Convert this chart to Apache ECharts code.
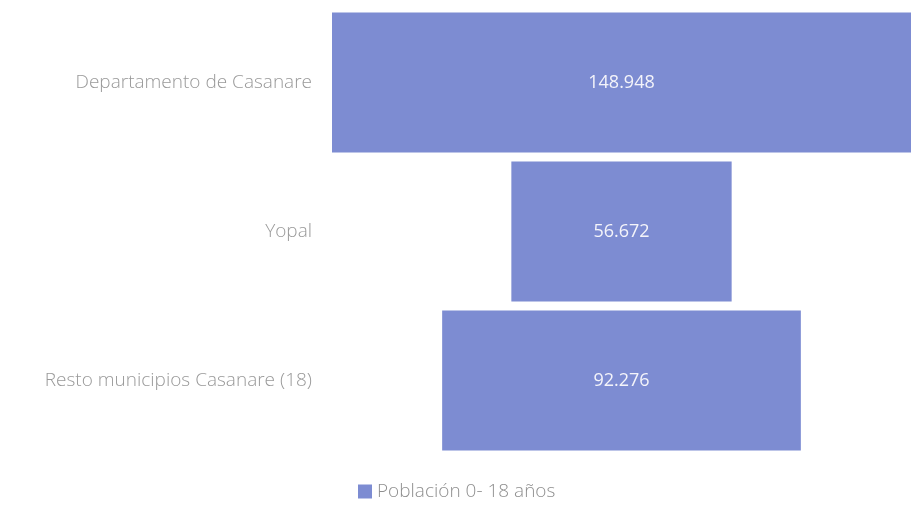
<!DOCTYPE html>
<html>
<head>
<meta charset="utf-8">
<script src="https://cdn.jsdelivr.net/npm/echarts@6/dist/echarts.min.js"></script>
<style>html,body{margin:0;padding:0;background:#fff;}#c{width:911px;height:512px;}</style>
</head>
<body>
<div id="c"></div>
<script>
var categories = ['Departamento de Casanare', 'Yopal', 'Resto municipios Casanare (18)'];
var seriesName = 'Población 0- 18 años';
var values = [148948, 56672, 92276];

var maxVal = Math.max.apply(null, values);
var offsets = values.map(function (v) { return (maxVal - v) / 2; });
function fmt(n) { return String(n).replace(/\B(?=(\d{3})+(?!\d))/g, '.'); }

var chart = echarts.init(document.getElementById('c'));
chart.setOption({
  animation: false,
  backgroundColor: '#ffffff',
  grid: { left: 332, right: -17, top: 8, bottom: 57, containLabel: false },
  xAxis: { type: 'value', min: 0, max: maxVal, show: false },
  yAxis: {
    type: 'category', data: categories, inverse: true,
    axisLine: { show: false }, axisTick: { show: false },
    axisLabel: { color: '#999999', fontFamily: 'Open Sans', fontWeight: 300, fontSize: 19, margin: 20 }
  },
  legend: {
    data: [seriesName], left: 353, top: 477,
    itemWidth: 14, itemHeight: 14, itemGap: 10, icon: 'rect',
    textStyle: { color: '#8f8f8f', fontFamily: 'Open Sans', fontWeight: 300, fontSize: 19 }
  },
  series: [
    {
      name: 'offset', type: 'bar', stack: 'f', data: offsets,
      itemStyle: { color: 'transparent' }, barWidth: '94%', silent: true
    },
    {
      name: seriesName, type: 'bar', stack: 'f', data: values, barWidth: '94%',
      itemStyle: { color: '#7d8cd2' },
      label: {
        show: true, position: 'inside', color: '#f4f4fa',
        fontFamily: 'Open Sans', fontSize: 18,
        formatter: function (p) { return fmt(p.value); }
      }
    }
  ]
});
</script>
</body>
</html>
